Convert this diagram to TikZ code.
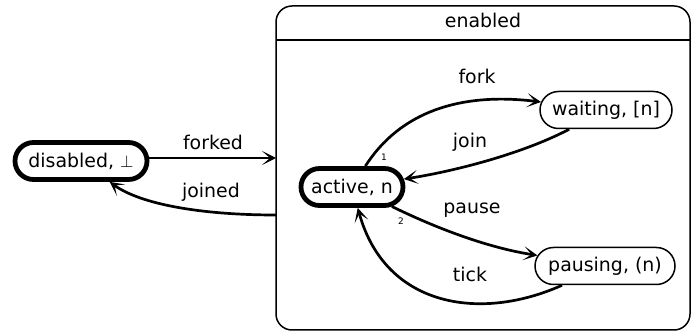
\documentclass[tikz,border=0pt]{standalone}
\usepackage{fontspec}
\setmainfont{DejaVu Sans}
\usetikzlibrary{arrows.meta}
\usetikzlibrary{shapes.misc}

\begin{document}
\begin{tikzpicture}[>={Stealth[length=14bp,width=14bp,inset=8bp]},line join=bevel,
  state/.style={rounded rectangle,draw,line width=1.5bp,minimum height=37bp,inner xsep=4bp,font=\fontsize{19}{21}\selectfont},
  initial/.style={state,line width=4.8bp,minimum height=37bp},
  trans/.style={line width=2.7bp},
  lbl/.style={font=\fontsize{19}{21}\selectfont},
  prio/.style={font=\fontsize{9}{10}\selectfont}]
\useasboundingbox (0bp,0bp) rectangle (695bp,332bp);
%%
\node (node_enabled) at (483bp,164bp) [draw,line width=1.5bp,rounded corners=16bp,minimum width=414bp,minimum height=324bp] {};
  \draw [line width=1.5bp] (276bp,292bp) -- (690bp,292bp);
  \node (title_enabled) at (483bp,312bp) [lbl] {enabled};
  \node (node_disabled) at (81bp,171bp) [initial,minimum width=140bp] {disabled, $\perp$};
  \node (node_active) at (352bp,145bp) [initial,minimum width=110bp] {active, n};
  \node (node_waiting) at (606bp,222bp) [state,minimum width=140bp] {waiting, [n]};
  \node (node_pausing) at (605bp,66bp) [state,minimum width=148bp] {pausing, (n)};
  \coordinate (enabled_in) at (276bp,174bp);
  \coordinate (enabled_out) at (276bp,117bp);
  \draw [trans,->] (node_disabled.east |- enabled_in) -- (enabled_in);
  \draw [trans,->] (enabled_out) ..controls (200bp,117bp) and (140bp,128bp)  .. (node_disabled);
  \draw [trans,->] (node_active) ..controls (400bp,220bp) and (460bp,240bp)  .. (node_waiting);
  \draw [trans,->] (node_waiting) ..controls (520bp,177bp) and (450bp,160bp)  .. (node_active);
  \draw [trans,->] (node_active) ..controls (440bp,102bp) and (490bp,84bp)  .. (node_pausing);
  \draw [trans,->] (node_pausing) ..controls (480bp,10bp) and (385bp,25bp)  .. (node_active);
  \node (lbl_forked) at (213bp,190bp) [lbl] {forked};
  \node (lbl_joined) at (211bp,140bp) [lbl] {joined};
  \node (lbl_fork) at (477bp,256bp) [lbl] {fork};
  \node (lbl_join) at (470bp,190bp) [lbl] {join};
  \node (lbl_pause) at (472bp,122bp) [lbl] {pause};
  \node (lbl_tick) at (470bp,58bp) [lbl] {tick};
  \node (prio_1) at (384bp,175bp) [prio] {1};
  \node (prio_2) at (401bp,111bp) [prio] {2};
%
\end{tikzpicture}
\end{document}
